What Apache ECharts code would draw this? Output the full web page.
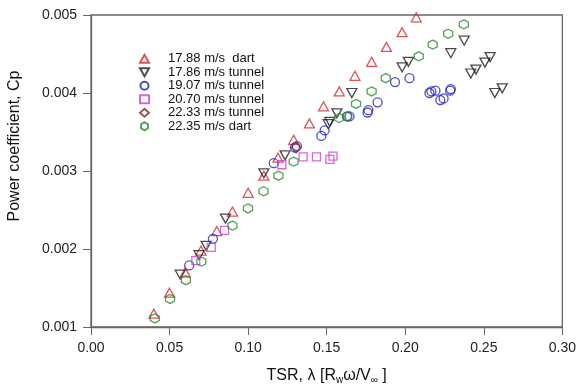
<!DOCTYPE html>
<html>
<head>
<meta charset="utf-8">
<script src="https://cdn.jsdelivr.net/npm/echarts@6/dist/echarts.min.js"></script>
<style>html,body{margin:0;padding:0;background:#fff}#c{width:579px;height:390px}</style>
</head>
<body>
<div id="c"></div>
<script>
const seriesNames = ['17.88 m/s  dart', '17.86 m/s tunnel', '19.07 m/s tunnel', '20.70 m/s tunnel', '22.33 m/s tunnel', '22.35 m/s dart'];
const xTicks = [0, 0.05, 0.10, 0.15, 0.20, 0.25, 0.30];
const yTicks = [0.001, 0.002, 0.003, 0.004, 0.005];
const yTitle = 'Power coefficient, Cp';

const dart1788 = [[0.040,0.00117],[0.050,0.00144],[0.060,0.00170],[0.070,0.00198],[0.080,0.00223],[0.090,0.00248],[0.100,0.00272],[0.110,0.00294],[0.119,0.00317],[0.129,0.00340],[0.139,0.00361],[0.148,0.00383],[0.158,0.00402],[0.168,0.00422],[0.1786,0.00440],[0.188,0.00459],[0.198,0.00478],[0.207,0.00497]];
const tunnel1786 = [[0.0568,0.00167],[0.0688,0.00192],[0.0733,0.00204],[0.0856,0.00239],[0.110,0.00297],[0.1235,0.00320],[0.151,0.00360],[0.152,0.00363],[0.1565,0.00374],[0.166,0.00400],[0.198,0.00433],[0.202,0.00440],[0.229,0.00451],[0.2375,0.00467],[0.2417,0.00425],[0.245,0.00430],[0.2507,0.00439],[0.254,0.00446],[0.257,0.00400],[0.2617,0.00406]];
const tunnel1907 = [[0.0625,0.00179],[0.0776,0.00213],[0.1163,0.00310],[0.1298,0.00330],[0.131,0.00332],[0.1466,0.00345],[0.1487,0.00352],[0.163,0.00370],[0.1645,0.00370],[0.176,0.00375],[0.1765,0.00378],[0.1824,0.00388],[0.1935,0.00414],[0.2027,0.00419],[0.2154,0.00400],[0.2166,0.00402],[0.2192,0.00403],[0.2223,0.00391],[0.2244,0.00393],[0.2286,0.00403],[0.229,0.00405]];
const tunnel2070 = [[0.0667,0.00185],[0.0765,0.00202],[0.085,0.00224],[0.1215,0.00308],[0.135,0.00318],[0.1435,0.00318],[0.152,0.00315],[0.154,0.00319]];
const tunnel2233 = [[0.1305,0.00330]];
const dart2235 = [[0.0406,0.00111],[0.0503,0.00136],[0.0604,0.00160],[0.0702,0.00184],[0.090,0.00230],[0.0999,0.00252],[0.1098,0.00274],[0.1193,0.00294],[0.129,0.00312],[0.158,0.00368],[0.163,0.00370],[0.1687,0.00386],[0.1786,0.00402],[0.1876,0.00419],[0.2086,0.00447],[0.2175,0.00462],[0.2273,0.00476],[0.2373,0.00488]];

const allData = [dart1788, tunnel1786, tunnel1907, tunnel2070, tunnel2233, dart2235];
const colors = ['#d42a2a', '#1e1e1e', '#2020c8', '#d040d0', '#8a2a2a', '#2a8a2a'];
const symbols = [
  'path://M5,0 L10,8.66 L0,8.66 Z',
  'path://M0,0 L10,0 L5,8.66 Z',
  'circle',
  'rect',
  'diamond',
  'path://M0,-1 L0.866,-0.5 L0.866,0.5 L0,1 L-0.866,0.5 L-0.866,-0.5 Z'
];
const sizes = [[10,9],[10,9],9,8,[10,11],9];

const chart = echarts.init(document.getElementById('c'), null, {renderer: 'canvas'});
const axisColor = '#666';
const font = 'Liberation Sans, Arial, sans-serif';

chart.setOption({
  animation: false,
  backgroundColor: '#fff',
  grid: {left: 91, right: 13, top: 15, bottom: 61, show: true, borderColor: axisColor, borderWidth: 1.3, backgroundColor: 'transparent'},
  legend: {
    orient: 'vertical', left: 139, top: 52, padding: 0, itemWidth: 9, itemHeight: 8, itemGap: 0,
    data: seriesNames,
    textStyle: {fontFamily: font, fontSize: 13, color: '#111', lineHeight: 13.5, padding: [0,0,0,14]},
    selectedMode: false
  },
  graphic: [{
    type: 'text', x: 15, y: 146, rotation: Math.PI / 2,
    style: {text: yTitle, font: '16px ' + font, fill: '#111', align: 'center', verticalAlign: 'middle'}
  }],
  xAxis: {
    type: 'value', min: 0, max: 0.3, interval: 0.05,
    axisLine: {show: true, onZero: false, lineStyle: {color: axisColor, width: 1.3}},
    axisTick: {show: true, inside: false, length: 8, lineStyle: {color: axisColor}},
    splitLine: {show: false},
    axisLabel: {fontFamily: font, fontSize: 14, color: '#222', margin: 14, formatter: v => v.toFixed(2)},
    name: '{a|TSR, λ [R}{s|w}{a|ω/V}{s|∞}{a| ]}',
    nameLocation: 'middle', nameGap: 40,
    nameTextStyle: {rich: {a: {fontFamily: font, fontSize: 16, color: '#111'}, s: {fontFamily: font, fontSize: 10, color: '#111', verticalAlign: 'bottom', padding: [8,0,0,0]}}}
  },
  yAxis: {
    type: 'value', min: 0.001, max: 0.005, interval: 0.001,
    axisLine: {show: true, onZero: false, lineStyle: {color: axisColor, width: 1.3}},
    axisTick: {show: true, inside: false, length: 8, lineStyle: {color: axisColor}},
    splitLine: {show: false},
    axisLabel: {fontFamily: font, fontSize: 14, color: '#222', margin: 14, formatter: v => v.toFixed(3)}
  },
  series: allData.map((d, i) => ({
    name: seriesNames[i], type: 'scatter', data: d,
    symbol: symbols[i], symbolSize: sizes[i],
    itemStyle: {color: 'rgba(255,255,255,0)', borderColor: colors[i], borderWidth: 1.3},
    z: i === 4 ? 5 : 2
  }))
});
</script>
</body>
</html>
